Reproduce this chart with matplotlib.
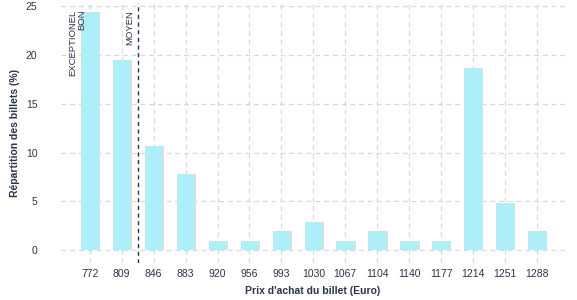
import matplotlib.pyplot as plt
import numpy as np

plt.rcParams['font.family'] = ['Liberation Sans', 'DejaVu Sans']

prix = ['772', '809', '846', '883', '920', '956', '993', '1030', '1067',
        '1104', '1140', '1177', '1214', '1251', '1288']
repartition = [24.4, 19.5, 10.7, 7.8, 1, 1, 2, 2.9, 1, 2, 1, 1, 18.6, 4.8, 2]
y_ticks = [0, 5, 10, 15, 20, 25]

txt_col = '#2b3348'
bar_col = '#aeeef8'

fig = plt.figure(figsize=(5.77, 3.0), dpi=100)
ax = fig.add_axes([61 / 577, 37 / 300, 504 / 577, 260 / 300])

x = np.arange(len(prix))
# petite ombre grise à droite des barres
ax.bar(x + 0.05, repartition, width=0.55, color='#dedede', zorder=2)
ax.bar(x, repartition, width=0.55, color=bar_col, zorder=3)

ax.set_xlim(-0.9, len(prix) - 1 + 0.88)
ax.set_ylim(-1.3, 25.3)
ax.set_xticks(x)
ax.set_xticklabels(prix)
ax.set_yticks(y_ticks)

ax.grid(True, color='#d9d9d9', linestyle=(0, (4, 3)), linewidth=0.9, zorder=0)
ax.set_axisbelow(True)
for s in ax.spines.values():
    s.set_visible(False)
ax.tick_params(axis='both', length=0, labelsize=7.5, colors=txt_col)
ax.tick_params(axis='y', pad=17)
ax.tick_params(axis='x', pad=4)

# seuil de prix
ax.axvline(1.5, color='#2b3348', linestyle=(0, (3, 2.5)), linewidth=1, zorder=4)
ax.text(-0.12, 24.6, 'EXCEPTIONEL\nBON', rotation=90, ha='right', va='top',
        multialignment='right', fontsize=6.8, color=txt_col, linespacing=1.0,
        zorder=5)
ax.text(1.38, 24.6, 'MOYEN', rotation=90, ha='right', va='top',
        fontsize=6.8, color=txt_col, zorder=5)

ax.set_xlabel("Prix d'achat du billet (Euro)", fontsize=7.5, fontweight='bold',
              color=txt_col, labelpad=5)
ax.set_ylabel('Répartition des billets (%)', fontsize=7.5, fontweight='bold',
              color=txt_col, labelpad=4)

fig.savefig('out.png', dpi=100)
